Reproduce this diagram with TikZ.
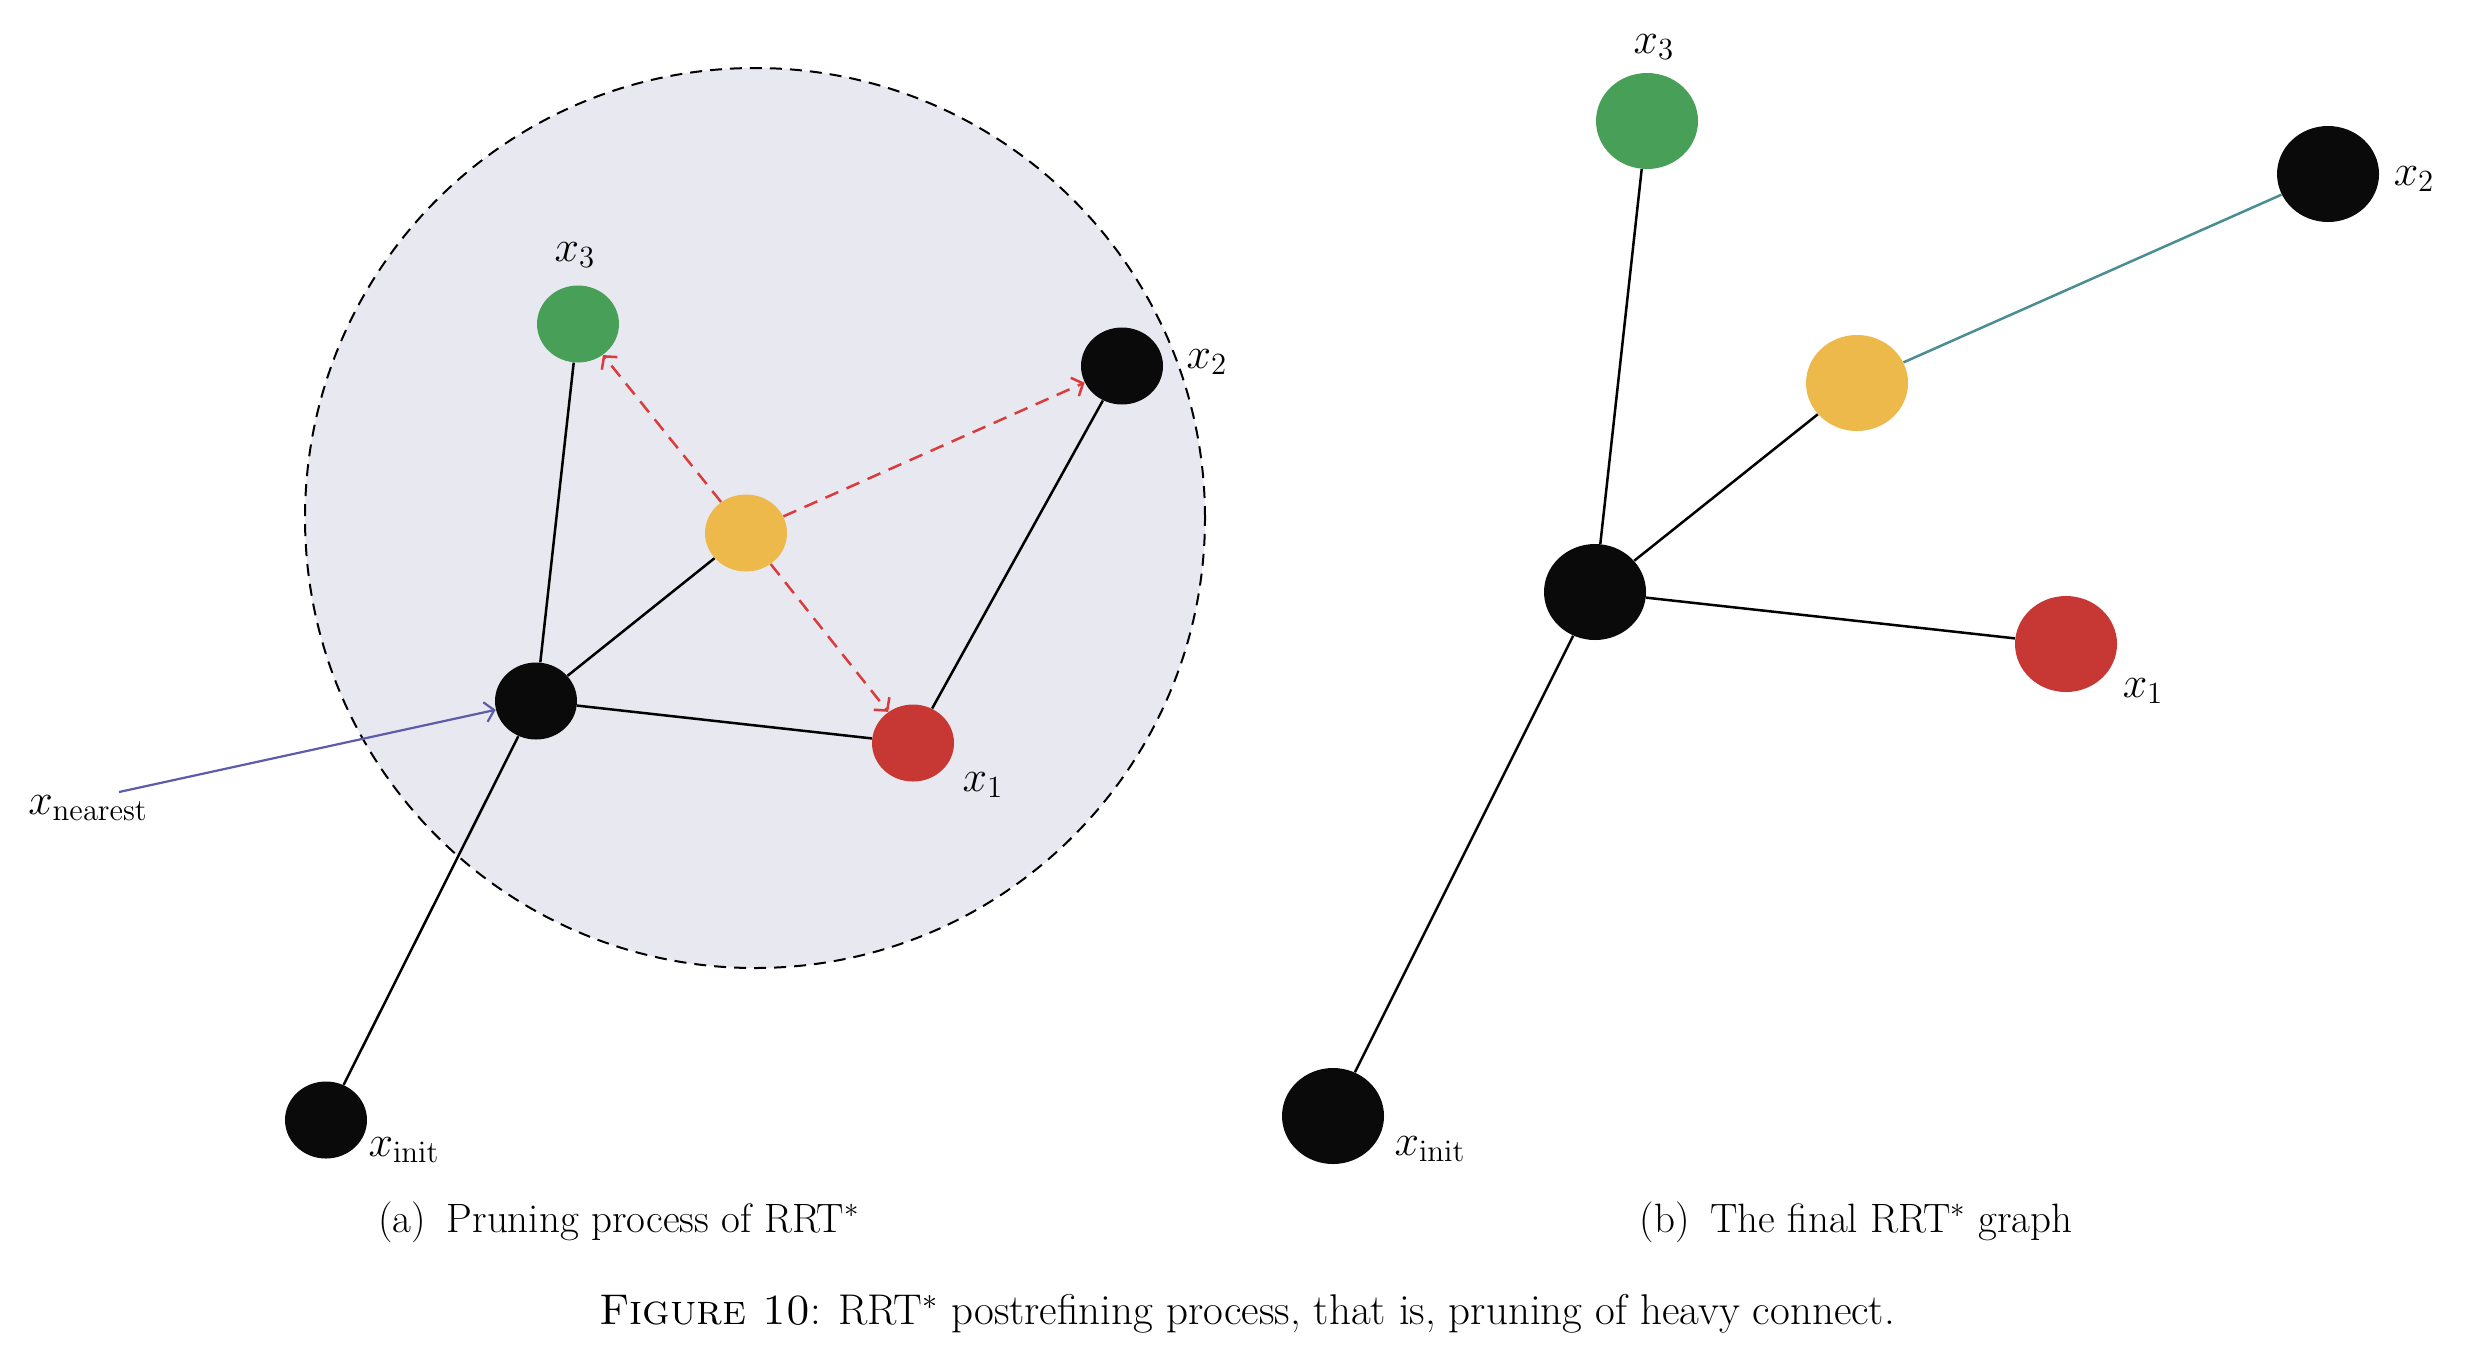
\RequirePackage{fix-cm}
\documentclass[tikz,border=0pt]{standalone}
\usetikzlibrary{arrows.meta,shapes.geometric}
\definecolor{lav}{RGB}{232,232,240}
\definecolor{ngreen}{RGB}{72,160,88}
\definecolor{nyellow}{RGB}{236,185,74}
\definecolor{nred}{RGB}{199,56,52}
\definecolor{nblack}{RGB}{10,10,10}
\definecolor{probered}{RGB}{218,60,60}
\definecolor{nearblue}{RGB}{92,92,170}
\definecolor{teal2}{RGB}{74,142,146}
\begin{document}
\begin{tikzpicture}[x=0.5pt,y=-0.5pt,
  dot/.style={ellipse, inner sep=0pt, minimum width=41pt, minimum height=38.5pt},
  bigdot/.style={ellipse, inner sep=0pt, minimum width=51pt, minimum height=48pt},
  edge/.style={draw=black, line width=1.25pt},
  probe/.style={draw=probered, line width=1.25pt, dash pattern=on 7pt off 4.5pt,
    -{Straight Barb[length=4.5pt,width=10pt]}},
  nearedge/.style={draw=nearblue, line width=1.1pt, -{Straight Barb[length=4.5pt,width=10pt]}},
  lbl/.style={inner sep=0pt, font=\fontsize{22}{26}\selectfont},
  captext/.style={inner sep=0pt, font=\fontsize{20.5}{24}\selectfont},
]
\useasboundingbox (0,0) rectangle (2476,1366);
\fill[white] (0,0) rectangle (2476,1366);

% ---------- panel (a) ----------
\draw[fill=lav, line width=1pt, dash pattern=on 6pt off 4pt] (755,518) circle[radius=225pt];

\node[dot, fill=ngreen] (a3) at (578,324) {};
\node[dot, fill=nblack] (a2) at (1122,366) {};
\node[dot, fill=nyellow] (ay) at (746,533) {};
\node[dot, fill=nblack] (an) at (536,701) {};
\node[dot, fill=nred] (a1) at (913,743) {};
\node[dot, fill=nblack] (ai) at (326,1120) {};

\draw[edge] (ai) -- (an);
\draw[edge] (an) -- (a3);
\draw[edge] (an) -- (ay);
\draw[edge] (an) -- (a1);
\draw[edge] (a1) -- (a2);

\draw[probe] (ay) -- (a3);
\draw[probe] (ay) -- (a2);
\draw[probe] (ay) -- (a1);

\coordinate (nstart) at (119,792);
\draw[nearedge] (nstart) -- (an);

\node[lbl] (la3) at (575,255) {$x_3$};
\node[lbl] (la2) at (1207,362) {$x_2$};
\node[lbl] (la1) at (983,785) {$x_1$};
\node[lbl] (lai) at (404,1150) {$x_{\mathrm{init}}$};
\node[lbl] (lan) at (88,808) {$x_{\mathrm{nearest}}$};

% ---------- panel (b) ----------
\node[bigdot, fill=ngreen] (b3) at (1647,121) {};
\node[bigdot, fill=nblack] (b2) at (2328,174) {};
\node[bigdot, fill=nyellow] (by) at (1857,383) {};
\node[bigdot, fill=nblack] (bh) at (1595,592) {};
\node[bigdot, fill=nred] (b1) at (2066,644) {};
\node[bigdot, fill=nblack] (bi) at (1333,1116) {};

\draw[edge] (bi) -- (bh);
\draw[edge] (bh) -- (b3);
\draw[edge] (bh) -- (by);
\draw[edge] (bh) -- (b1);
\draw[draw=teal2, line width=1.25pt] (by) -- (b2);

\node[lbl] (lb3) at (1654,47) {$x_3$};
\node[lbl] (lb2) at (2414,179) {$x_2$};
\node[lbl] (lb1) at (2143,691) {$x_1$};
\node[lbl] (lbi) at (1430,1149) {$x_{\mathrm{init}}$};

% ---------- captions ----------
\node[captext] (capa) at (619,1222) {(a)\enspace Pruning process of RRT$^*$};
\node[captext] (capb) at (1856,1222) {(b)\enspace The final RRT$^*$ graph};
\node[captext, font=\fontsize{21.5}{25}\selectfont] (capmain) at (1247,1314)
  {\textsc{Figure 10}: RRT$^*$ postrefining process, that is, pruning of heavy connect.};
\end{tikzpicture}
\end{document}
